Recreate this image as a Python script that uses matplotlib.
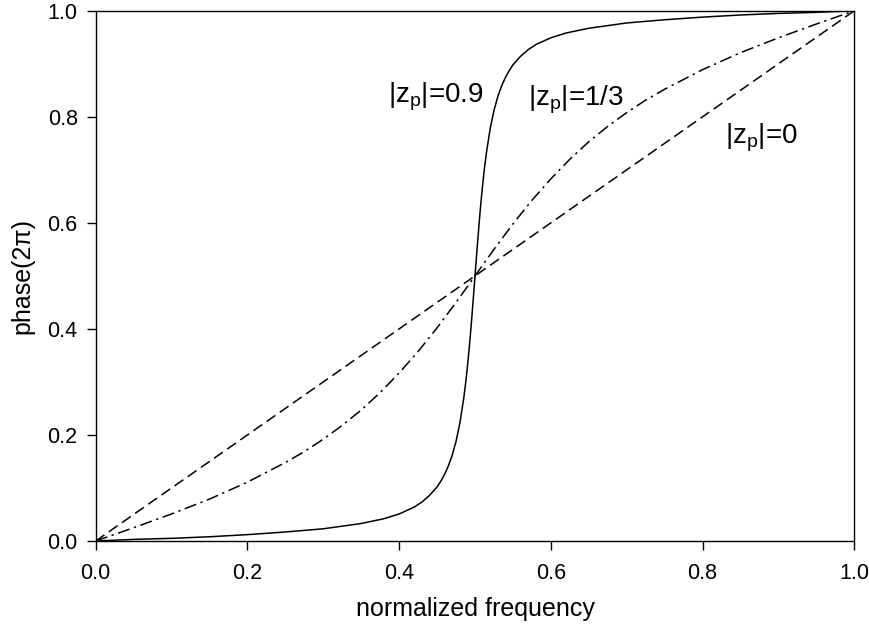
import matplotlib
matplotlib.use('Agg')
import matplotlib.pyplot as plt
from matplotlib.ticker import FormatStrFormatter

plt.rcParams['font.family'] = ['Liberation Sans', 'DejaVu Sans']
plt.rcParams['mathtext.fontset'] = 'custom'
plt.rcParams['mathtext.rm'] = 'Liberation Sans'

# |zp| = 0.9
freq_09 = [0.0, 0.05, 0.1, 0.15, 0.2, 0.25, 0.3, 0.35, 0.38, 0.4, 0.42, 0.43, 0.44,
           0.45, 0.455, 0.46, 0.465, 0.47, 0.475, 0.48, 0.485, 0.4875, 0.49, 0.4925,
           0.495, 0.4975, 0.5, 0.5025, 0.505, 0.5075, 0.51, 0.5125, 0.515, 0.52,
           0.525, 0.53, 0.535, 0.54, 0.545, 0.55, 0.56, 0.57, 0.58, 0.6, 0.62,
           0.65, 0.7, 0.75, 0.8, 0.85, 0.9, 0.95, 1.0]
phase_09 = [0.0, 0.003, 0.005, 0.008, 0.012, 0.017, 0.023, 0.033, 0.042, 0.051, 0.064,
            0.0735, 0.086, 0.102, 0.113, 0.126, 0.142, 0.162, 0.188, 0.222, 0.268,
            0.296, 0.329, 0.366, 0.408, 0.453, 0.5, 0.547, 0.592, 0.634, 0.671,
            0.704, 0.732, 0.778, 0.812, 0.838, 0.858, 0.874, 0.887, 0.898, 0.914,
            0.9265, 0.936, 0.949, 0.958, 0.967, 0.977, 0.983, 0.988, 0.992, 0.995,
            0.997, 1.0]

# |zp| = 1/3
freq_13 = [0.0, 0.05, 0.1, 0.15, 0.2, 0.25, 0.275, 0.3, 0.325, 0.35, 0.375, 0.4,
           0.425, 0.45, 0.475, 0.5, 0.525, 0.55, 0.575, 0.6, 0.625, 0.65, 0.675,
           0.7, 0.725, 0.75, 0.8, 0.85, 0.9, 0.95, 1.0]
phase_13 = [0.0, 0.025, 0.051, 0.079, 0.111, 0.148, 0.1685, 0.192, 0.218, 0.247,
            0.280, 0.317, 0.3575, 0.402, 0.450, 0.5, 0.550, 0.598, 0.6425, 0.683,
            0.720, 0.753, 0.782, 0.808, 0.8315, 0.852, 0.889, 0.921, 0.949, 0.975, 1.0]

# |zp| = 0
freq_0 = [0.0, 1.0]
phase_0 = [0.0, 1.0]

fig = plt.figure(figsize=(8.7, 6.32), dpi=100)
ax = fig.add_axes([0.110, 0.144, 0.872, 0.839])

ax.plot(freq_09, phase_09, color='black', lw=1.1, ls='-')
ax.plot(freq_13, phase_13, color='black', lw=1.1, ls=(0, (8, 3, 1.5, 3)))
ax.plot(freq_0, phase_0, color='black', lw=1.1, ls=(0, (7, 3.5)))

ax.text(0.385, 0.828, r'|z$_\mathrm{p}$|=0.9', fontsize=20, ha='left', va='baseline')
ax.text(0.570, 0.821, r'|z$_\mathrm{p}$|=1/3', fontsize=20, ha='left', va='baseline')
ax.text(0.830, 0.751, r'|z$_\mathrm{p}$|=0', fontsize=20, ha='left', va='baseline')

ax.set_xlim(0, 1)
ax.set_ylim(0, 1)
ax.set_xticks([0.0, 0.2, 0.4, 0.6, 0.8, 1.0])
ax.set_yticks([0.0, 0.2, 0.4, 0.6, 0.8, 1.0])
ax.xaxis.set_major_formatter(FormatStrFormatter('%.1f'))
ax.yaxis.set_major_formatter(FormatStrFormatter('%.1f'))
ax.tick_params(direction='out', length=6.5, width=1, labelsize=15.5)
ax.tick_params(axis='x', pad=9.5)
ax.tick_params(axis='y', pad=6.5)
for s in ax.spines.values():
    s.set_linewidth(1)

ax.set_xlabel('normalized frequency', fontsize=18, labelpad=9.5)
ax.set_ylabel('phase(2π)', fontsize=18, labelpad=9)

fig.savefig('out.png', dpi=100)
